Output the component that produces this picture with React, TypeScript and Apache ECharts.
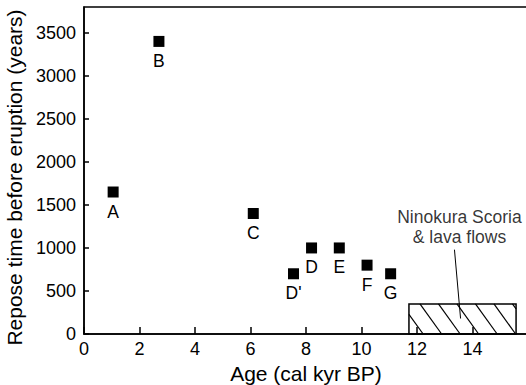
import React, { useEffect, useRef } from "react";
import * as echarts from "echarts";

const ages = [1.05, 2.7, 6.1, 7.55, 8.2, 9.2, 10.2, 11.05];
const reposeYears = [1650, 3400, 1400, 700, 1000, 1000, 800, 700];
const eruptionLabels = ["A", "B", "C", "D'", "D", "E", "F", "G"];

const ninokuraAgeRange = [11.71, 15.57];
const ninokuraHeight = 350;
const annotationLines = ["Ninokura Scoria", "& lava flows"];
const annotationAt = [13.53, 1240];
const leaderLine = [
  [13.35, 980],
  [13.57, 180],
];

const FONT = "'Liberation Sans', Arial, sans-serif";

export default function App() {
  const ref = useRef<HTMLDivElement>(null);
  useEffect(() => {
    if (!ref.current) return;
    const chart = echarts.init(ref.current, undefined, { renderer: "svg" });
    const points = ages.map((a, i) => ({
      value: [a, reposeYears[i]],
      name: eruptionLabels[i],
    }));
    const option: any = {
      animation: false,
      backgroundColor: "#fff",
      grid: {
        left: 84,
        top: 7,
        right: -2,
        bottom: 51,
        show: true,
        containLabel: false,
        outerBoundsMode: "none",
        borderColor: "#000",
        borderWidth: 1.5,
      },
      xAxis: {
        type: "value",
        min: 0,
        max: 16,
        interval: 2,
        name: "Age (cal kyr BP)",
        nameLocation: "middle",
        nameGap: 20,
        nameTextStyle: { fontSize: 21, color: "#000", fontFamily: FONT },
        axisLine: { show: true, lineStyle: { color: "#000", width: 1.5 } },
        axisTick: { show: true, inside: true, length: 7, lineStyle: { color: "#000", width: 1.5 } },
        axisLabel: {
          fontSize: 18,
          color: "#000",
          fontFamily: FONT,
          margin: 6,
          showMaxLabel: false,
          formatter: (v: number) => String(v),
        },
        splitLine: { show: false },
      },
      yAxis: {
        type: "value",
        min: 0,
        max: 3800,
        interval: 500,
        name: "Repose time before eruption (years)",
        nameLocation: "middle",
        nameGap: 43,
        nameTextStyle: { fontSize: 21, color: "#000", fontFamily: FONT, padding: [0, 14, 0, 0] },
        axisLine: { show: true, lineStyle: { color: "#000", width: 1.5 } },
        axisTick: { show: true, inside: true, length: 5, lineStyle: { color: "#000", width: 1.5 } },
        axisLabel: {
          fontSize: 18,
          color: "#000",
          fontFamily: FONT,
          margin: 8,
          showMaxLabel: false,
          formatter: (v: number) => String(v),
        },
        splitLine: { show: false },
      },
      series: [
        {
          type: "custom",
          data: [[ninokuraAgeRange[0], ninokuraAgeRange[1], ninokuraHeight]],
          encode: { x: [0, 1], y: 2 },
          renderItem: (params: any, api: any) => {
            const p0 = api.coord([api.value(0), 0]);
            const p1 = api.coord([api.value(1), api.value(2)]);
            const x0 = p0[0];
            const x1 = p1[0];
            const yTop = p1[1];
            const yBot = p0[1];
            const k = 0.72;
            const spacing = 18.5;
            const children: any[] = [];
            const H = yBot - yTop;
            const cStart = x0 + 11 - Math.ceil((k * H + 11) / spacing) * spacing;
            for (let c = cStart; c < x1; c += spacing) {
              const ya = Math.max(yTop, yTop + (x0 - c) / k);
              const yb = Math.min(yBot, yTop + (x1 - c) / k);
              if (yb <= ya) continue;
              children.push({
                type: "line",
                shape: {
                  x1: c + k * (ya - yTop),
                  y1: ya,
                  x2: c + k * (yb - yTop),
                  y2: yb,
                },
                style: { stroke: "#000", lineWidth: 1.2 },
              });
            }
            children.push({
              type: "rect",
              shape: { x: x0, y: yTop, width: x1 - x0, height: H },
              style: { fill: "none", stroke: "#000", lineWidth: 1.5 },
            });
            return { type: "group", children };
          },
          silent: true,
          z: 3,
        },
        {
          type: "scatter",
          data: points,
          symbol: "rect",
          symbolSize: 11,
          itemStyle: { color: "#000", opacity: 1 },
          label: {
            show: true,
            position: "bottom",
            distance: 5,
            formatter: (p: any) => p.name,
            fontSize: 17.5,
            color: "#000",
            fontFamily: FONT,
          },
          z: 4,
        },
        {
          type: "scatter",
          data: [{ value: annotationAt, name: annotationLines.join("\n") }],
          symbolSize: 0,
          label: {
            show: true,
            position: "inside",
            formatter: (p: any) => p.name,
            fontSize: 17.5,
            lineHeight: 20,
            color: "#000",
            fontFamily: FONT,
          },
          markLine: {
            silent: true,
            symbol: ["none", "none"],
            label: { show: false },
            lineStyle: { color: "#000", width: 1, type: "solid" },
            data: [[{ coord: leaderLine[0] }, { coord: leaderLine[1] }]],
          },
          z: 5,
        },
      ],
    };
    chart.setOption(option);
    return () => chart.dispose();
  }, []);
  return (
    <div
      ref={ref}
      style={{ position: "fixed", left: 0, top: 0, width: 526, height: 385, background: "#fff" }}
    />
  );
}
